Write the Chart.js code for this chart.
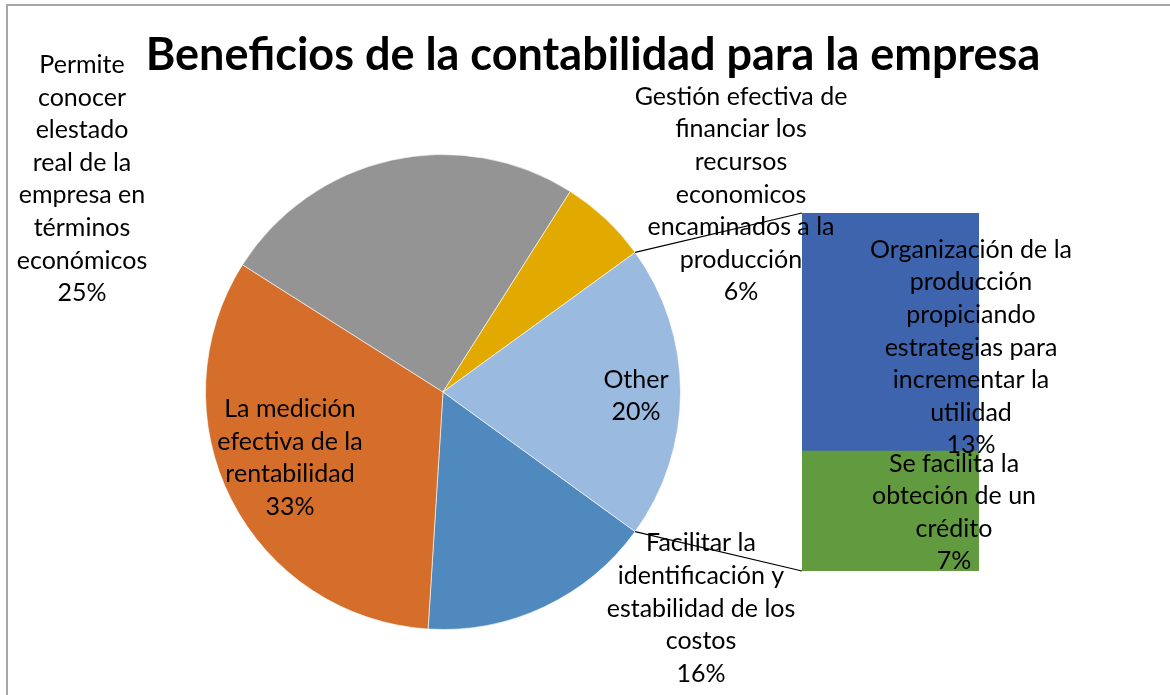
<!DOCTYPE html>
<html>
<head>
<meta charset="utf-8">
<script src="https://cdn.jsdelivr.net/npm/chart.js@4/dist/chart.umd.min.js"></script>
<style>
  html, body { margin: 0; padding: 0; background: #ffffff; }
  #wrap { position: relative; width: 1170px; height: 695px; overflow: hidden; background: #fff; }
  #frame { position: absolute; left: 6px; top: 4px; width: 1200px; height: 800px; border-top: 2px solid #a6a6a6; border-left: 2px solid #a6a6a6; box-sizing: border-box; }
  canvas { position: absolute; left: 0; top: 0; }
</style>
</head>
<body>
<div id="wrap">
  <div id="frame"></div>
  <canvas id="pie" width="1170" height="695"></canvas>
  <canvas id="bar" width="1170" height="695"></canvas>
</div>
<script>
// ---- data ----
const chartTitle = "Beneficios de la contabilidad para la empresa";
const pieCategories = [
  "Facilitar la identificación y estabilidad de los costos",
  "La medición efectiva de la rentabilidad",
  "Permite conocer elestado real de la empresa en términos económicos",
  "Gestión efectiva de financiar los recursos economicos encaminados a la producción"
];
const pieValues = [16, 33, 25, 6];
const otherLabel = "Other";
const barCategories = [
  "Se facilita la obteción de un crédito",
  "Organización de la producción propiciando estrategias para incrementar la utilidad"
];
const barValues = [6.7, 13.3];

// ---- styles / layout ----
const pieColors = ["#4f89bd", "#d56e2b", "#949494", "#e2aa00", "#9abadf"];
const barColors = ["#629a3f", "#3e64ad"];
const FONT = "Lato, Calibri, Carlito, sans-serif";
const labelFontSize = 25;
const titleFontSize = 45;
const lineH = 32.6;
// wrapped lines (as Excel wrapped them) and block centres
const pieLabelLines = [
  ["Facilitar la", "identificación y", "estabilidad de los", "costos"],
  ["La medición", "efectiva de la", "rentabilidad"],
  ["Permite", "conocer", "elestado", "real de la", "empresa en", "términos", "económicos"],
  ["Gestión efectiva de", "financiar los", "recursos", "economicos", "encaminados a la", "producción"],
  ["Other"]
];
const pieLabelPos = [[701, 608.5], [290, 458], [82, 179], [741, 194.5], [636, 396]];
const barLabelLines = [
  ["Se facilita la", "obteción de un", "crédito"],
  ["Organización de la", "producción", "propiciando", "estrategias para", "incrementar la", "utilidad"]
];
const barLabelPos = [[954, 512.5], [971, 347.5]];

const otherValue = barValues.reduce((a, b) => a + b, 0);
const allPie = pieValues.concat([otherValue]);
const pieTotal = allPie.reduce((a, b) => a + b, 0);
const pct = v => Math.round(v / pieTotal * 100) + "%";

function drawBlock(ctx, lines, cx, cy) {
  ctx.save();
  ctx.font = labelFontSize + "px " + FONT;
  ctx.fillStyle = "#000";
  ctx.textAlign = "center";
  ctx.textBaseline = "middle";
  const y0 = cy - (lines.length - 1) * lineH / 2;
  lines.forEach((t, i) => ctx.fillText(t, cx, y0 + i * lineH));
  ctx.restore();
}

const pieChart = new Chart(document.getElementById("pie"), {
  type: "pie",
  data: {
    labels: pieCategories.concat([otherLabel]),
    datasets: [{
      data: allPie,
      backgroundColor: pieColors,
      borderColor: "rgba(255,255,255,0.6)",
      borderWidth: 1
    }]
  },
  options: {
    responsive: false,
    animation: false,
    rotation: 90 + (otherValue / pieTotal) * 180,
    layout: { padding: { left: 205, top: 154, right: 489, bottom: 65 } },
    plugins: { legend: { display: false }, tooltip: { enabled: false }, title: { display: false } }
  }
});

const barPlugin = {
  id: "barExtras",
  afterDatasetsDraw(chart) {
    const ctx = chart.ctx;
    // title
    ctx.save();
    ctx.font = "bold " + titleFontSize + "px " + FONT;
    ctx.fillStyle = "#000";
    ctx.textAlign = "center";
    ctx.textBaseline = "alphabetic";
    ctx.fillText(chartTitle, 593, 70);
    ctx.restore();
    // data labels
    allPie.forEach((v, i) => {
      drawBlock(ctx, pieLabelLines[i].concat([pct(v)]), pieLabelPos[i][0], pieLabelPos[i][1]);
    });
    barValues.forEach((v, i) => {
      drawBlock(ctx, barLabelLines[i].concat([pct(v)]), barLabelPos[i][0], barLabelPos[i][1]);
    });
    // connector lines from the "Other" slice edges to the bar corners
    const arc = pieChart.getDatasetMeta(0).data[allPie.length - 1];
    const topBar = chart.getDatasetMeta(1).data[0];
    const botBar = chart.getDatasetMeta(0).data[0];
    const left = topBar.x - topBar.width / 2;
    const p1 = [arc.x + arc.outerRadius * Math.cos(arc.startAngle), arc.y + arc.outerRadius * Math.sin(arc.startAngle)];
    const p2 = [arc.x + arc.outerRadius * Math.cos(arc.endAngle), arc.y + arc.outerRadius * Math.sin(arc.endAngle)];
    ctx.save();
    ctx.strokeStyle = "#000";
    ctx.lineWidth = 1.2;
    ctx.beginPath();
    ctx.moveTo(p1[0], p1[1]);
    ctx.lineTo(left, topBar.y);
    ctx.moveTo(p2[0], p2[1]);
    ctx.lineTo(left, botBar.base);
    ctx.stroke();
    ctx.restore();
  }
};

new Chart(document.getElementById("bar"), {
  type: "bar",
  data: {
    labels: [otherLabel],
    datasets: barValues.map((v, i) => ({
      label: barCategories[i],
      data: [v],
      backgroundColor: barColors[i],
      borderWidth: 0,
      barPercentage: 1,
      categoryPercentage: 1
    }))
  },
  options: {
    responsive: false,
    animation: false,
    layout: { padding: { left: 802, top: 213, right: 191, bottom: 124 } },
    scales: {
      x: { stacked: true, display: false },
      y: { stacked: true, display: false, min: 0, max: otherValue }
    },
    plugins: { legend: { display: false }, tooltip: { enabled: false }, title: { display: false } }
  },
  plugins: [barPlugin]
});
</script>
</body>
</html>
